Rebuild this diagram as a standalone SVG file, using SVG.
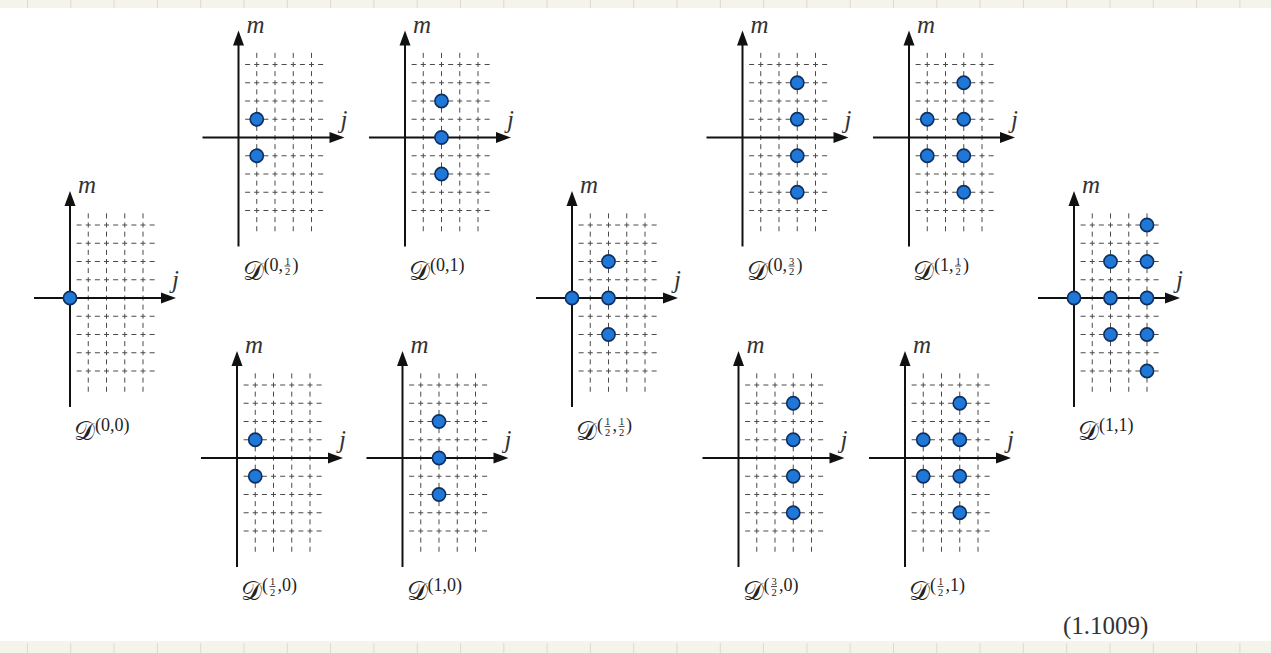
<svg xmlns="http://www.w3.org/2000/svg" xmlns:xlink="http://www.w3.org/1999/xlink" width="1271" height="653" viewBox="0 0 1271 653">
<style>
.grid{stroke:#4a4a4a;stroke-width:1;stroke-dasharray:5 4.125;fill:none}
.axis{stroke:#111;stroke-width:2;fill:none}
.head{fill:#111}
.dot{fill:#1f78d8;stroke:#0f2f5e;stroke-width:1.6}
.ax{font-family:"Liberation Serif","DejaVu Serif",serif;font-style:italic;font-weight:normal;font-size:25px;fill:#333}
.cal{font-family:"DejaVu Serif","DejaVu Sans",serif;font-size:26px;fill:#222}
.sup{font-family:"Liberation Serif",serif;font-size:18px;fill:#222}
.fr{font-family:"Liberation Serif",serif;font-size:10.5px;fill:#222;text-anchor:middle}
.bar{stroke:#222;stroke-width:0.8}
.eq{font-family:"Liberation Serif",serif;font-size:25px;fill:#333}
.strip{fill:#f5f4ea}
.tick{stroke:#dcdacb;stroke-width:1}
</style>
<defs>
<g id="frame">
<line class="grid" x1="18.25" y1="-84.625" x2="18.25" y2="93.75"/>
<line class="grid" x1="36.5" y1="-84.625" x2="36.5" y2="93.75"/>
<line class="grid" x1="54.75" y1="-84.625" x2="54.75" y2="93.75"/>
<line class="grid" x1="73" y1="-84.625" x2="73" y2="93.75"/>
<line class="grid" x1="6.625" y1="-73" x2="87" y2="-73"/>
<line class="grid" x1="6.625" y1="-54.75" x2="87" y2="-54.75"/>
<line class="grid" x1="6.625" y1="-36.5" x2="87" y2="-36.5"/>
<line class="grid" x1="6.625" y1="-18.25" x2="87" y2="-18.25"/>
<line class="grid" x1="6.625" y1="18.25" x2="87" y2="18.25"/>
<line class="grid" x1="6.625" y1="36.5" x2="87" y2="36.5"/>
<line class="grid" x1="6.625" y1="54.75" x2="87" y2="54.75"/>
<line class="grid" x1="6.625" y1="73" x2="87" y2="73"/>
<line class="axis" x1="-36" y1="0" x2="93" y2="0"/>
<polygon class="head" points="106,0 91,-5.5 91,5.5"/>
<line class="axis" x1="0" y1="109" x2="0" y2="-94"/>
<polygon class="head" points="0,-107 -5.5,-92 5.5,-92"/>
</g>
</defs>
<rect width="1271" height="653" fill="#ffffff"/>
<g id="border">
<rect class="strip" x="0" y="0" width="1271" height="8"/>
<rect class="strip" x="0" y="641" width="1271" height="12"/>
<path class="tick" d="M27.5 0V8M70.8 0V8M114.1 0V8M157.4 0V8M200.7 0V8M244 0V8M287.3 0V8M330.6 0V8M373.9 0V8M417.2 0V8M460.5 0V8M503.8 0V8M547.1 0V8M590.4 0V8M633.7 0V8M677 0V8M720.3 0V8M763.6 0V8M806.9 0V8M850.2 0V8M893.5 0V8M936.8 0V8M980.1 0V8M1023.4 0V8M1066.7 0V8M1110 0V8M1153.3 0V8M1196.6 0V8M1239.9 0V8"/>
<path class="tick" d="M27.5 643V653M70.8 643V653M114.1 643V653M157.4 643V653M200.7 643V653M244 643V653M287.3 643V653M330.6 643V653M373.9 643V653M417.2 643V653M460.5 643V653M503.8 643V653M547.1 643V653M590.4 643V653M633.7 643V653M677 643V653M720.3 643V653M763.6 643V653M806.9 643V653M850.2 643V653M893.5 643V653M936.8 643V653M980.1 643V653M1023.4 643V653M1066.7 643V653M1110 643V653M1153.3 643V653M1196.6 643V653M1239.9 643V653"/>
</g>
<g id="connectors"></g>

<g id="D00">
<use xlink:href="#frame" transform="translate(70,298)"/>
<text class="ax" x="78" y="193">m</text>
<text class="ax" x="172" y="288">j</text>
<circle class="dot" cx="70" cy="298" r="6.6"/>
<text class="cal" x="74" y="440">𝒟</text>
<text class="sup" x="95" y="431">(0,0)</text>
</g>

<g id="D0h">
<use xlink:href="#frame" transform="translate(238.5,137.5)"/>
<text class="ax" x="246.5" y="32.5">m</text>
<text class="ax" x="340.5" y="127.5">j</text>
<circle class="dot" cx="256.75" cy="119.25" r="6.6"/>
<circle class="dot" cx="256.75" cy="155.75" r="6.6"/>
<text class="cal" x="242.5" y="279.5">𝒟</text>
<text class="sup" x="263.5" y="270.5">(0,</text>
<text class="fr" x="287.5" y="264.5">1</text>
<line class="bar" x1="284.5" y1="266" x2="290.5" y2="266"/>
<text class="fr" x="287.5" y="275">2</text>
<text class="sup" x="292.5" y="270.5">)</text>
</g>

<g id="D01">
<use xlink:href="#frame" transform="translate(405,137.5)"/>
<text class="ax" x="413" y="32.5">m</text>
<text class="ax" x="507" y="127.5">j</text>
<circle class="dot" cx="441.5" cy="101" r="6.6"/>
<circle class="dot" cx="441.5" cy="137.5" r="6.6"/>
<circle class="dot" cx="441.5" cy="174" r="6.6"/>
<text class="cal" x="409" y="279.5">𝒟</text>
<text class="sup" x="430" y="270.5">(0,1)</text>
</g>

<g id="Dh0">
<use xlink:href="#frame" transform="translate(237,458)"/>
<text class="ax" x="245" y="353">m</text>
<text class="ax" x="339" y="448">j</text>
<circle class="dot" cx="255.25" cy="439.75" r="6.6"/>
<circle class="dot" cx="255.25" cy="476.25" r="6.6"/>
<text class="cal" x="241" y="600">𝒟</text>
<text class="sup" x="262" y="591">(</text>
<text class="fr" x="272.5" y="585">1</text>
<line class="bar" x1="269.5" y1="586.5" x2="275.5" y2="586.5"/>
<text class="fr" x="272.5" y="595.5">2</text>
<text class="sup" x="277.5" y="591">,0)</text>
</g>

<g id="D10">
<use xlink:href="#frame" transform="translate(402.5,458)"/>
<text class="ax" x="410.5" y="353">m</text>
<text class="ax" x="504.5" y="448">j</text>
<circle class="dot" cx="439" cy="421.5" r="6.6"/>
<circle class="dot" cx="439" cy="458" r="6.6"/>
<circle class="dot" cx="439" cy="494.5" r="6.6"/>
<text class="cal" x="406.5" y="600">𝒟</text>
<text class="sup" x="427.5" y="591">(1,0)</text>
</g>

<g id="Dhh">
<use xlink:href="#frame" transform="translate(572,298)"/>
<text class="ax" x="580" y="193">m</text>
<text class="ax" x="674" y="288">j</text>
<circle class="dot" cx="572" cy="298" r="6.6"/>
<circle class="dot" cx="608.5" cy="261.5" r="6.6"/>
<circle class="dot" cx="608.5" cy="298" r="6.6"/>
<circle class="dot" cx="608.5" cy="334.5" r="6.6"/>
<text class="cal" x="576" y="440">𝒟</text>
<text class="sup" x="597" y="431">(</text>
<text class="fr" x="607.5" y="425">1</text>
<line class="bar" x1="604.5" y1="426.5" x2="610.5" y2="426.5"/>
<text class="fr" x="607.5" y="435.5">2</text>
<text class="sup" x="612.5" y="431">,</text>
<text class="fr" x="621.5" y="425">1</text>
<line class="bar" x1="618.5" y1="426.5" x2="624.5" y2="426.5"/>
<text class="fr" x="621.5" y="435.5">2</text>
<text class="sup" x="626" y="431">)</text>
</g>

<g id="D03h">
<use xlink:href="#frame" transform="translate(742.5,137.5)"/>
<text class="ax" x="750.5" y="32.5">m</text>
<text class="ax" x="844.5" y="127.5">j</text>
<circle class="dot" cx="797.25" cy="82.75" r="6.6"/>
<circle class="dot" cx="797.25" cy="119.25" r="6.6"/>
<circle class="dot" cx="797.25" cy="155.75" r="6.6"/>
<circle class="dot" cx="797.25" cy="192.25" r="6.6"/>
<text class="cal" x="746.5" y="279.5">𝒟</text>
<text class="sup" x="767.5" y="270.5">(0,</text>
<text class="fr" x="791.5" y="264.5">3</text>
<line class="bar" x1="788.5" y1="266" x2="794.5" y2="266"/>
<text class="fr" x="791.5" y="275">2</text>
<text class="sup" x="796.5" y="270.5">)</text>
</g>

<g id="D1h">
<use xlink:href="#frame" transform="translate(909,137.5)"/>
<text class="ax" x="917" y="32.5">m</text>
<text class="ax" x="1011" y="127.5">j</text>
<circle class="dot" cx="927.25" cy="119.25" r="6.6"/>
<circle class="dot" cx="927.25" cy="155.75" r="6.6"/>
<circle class="dot" cx="963.75" cy="82.75" r="6.6"/>
<circle class="dot" cx="963.75" cy="119.25" r="6.6"/>
<circle class="dot" cx="963.75" cy="155.75" r="6.6"/>
<circle class="dot" cx="963.75" cy="192.25" r="6.6"/>
<text class="cal" x="913" y="279.5">𝒟</text>
<text class="sup" x="934" y="270.5">(1,</text>
<text class="fr" x="958" y="264.5">1</text>
<line class="bar" x1="955" y1="266" x2="961" y2="266"/>
<text class="fr" x="958" y="275">2</text>
<text class="sup" x="963" y="270.5">)</text>
</g>

<g id="D3h0">
<use xlink:href="#frame" transform="translate(738.5,458)"/>
<text class="ax" x="746.5" y="353">m</text>
<text class="ax" x="840.5" y="448">j</text>
<circle class="dot" cx="793.25" cy="403.25" r="6.6"/>
<circle class="dot" cx="793.25" cy="439.75" r="6.6"/>
<circle class="dot" cx="793.25" cy="476.25" r="6.6"/>
<circle class="dot" cx="793.25" cy="512.75" r="6.6"/>
<text class="cal" x="742.5" y="600">𝒟</text>
<text class="sup" x="763.5" y="591">(</text>
<text class="fr" x="774" y="585">3</text>
<line class="bar" x1="771" y1="586.5" x2="777" y2="586.5"/>
<text class="fr" x="774" y="595.5">2</text>
<text class="sup" x="779" y="591">,0)</text>
</g>

<g id="Dh1">
<use xlink:href="#frame" transform="translate(905,458)"/>
<text class="ax" x="913" y="353">m</text>
<text class="ax" x="1007" y="448">j</text>
<circle class="dot" cx="923.25" cy="439.75" r="6.6"/>
<circle class="dot" cx="923.25" cy="476.25" r="6.6"/>
<circle class="dot" cx="959.75" cy="403.25" r="6.6"/>
<circle class="dot" cx="959.75" cy="439.75" r="6.6"/>
<circle class="dot" cx="959.75" cy="476.25" r="6.6"/>
<circle class="dot" cx="959.75" cy="512.75" r="6.6"/>
<text class="cal" x="909" y="600">𝒟</text>
<text class="sup" x="930" y="591">(</text>
<text class="fr" x="940.5" y="585">1</text>
<line class="bar" x1="937.5" y1="586.5" x2="943.5" y2="586.5"/>
<text class="fr" x="940.5" y="595.5">2</text>
<text class="sup" x="945.5" y="591">,1)</text>
</g>

<g id="D11">
<use xlink:href="#frame" transform="translate(1074,298)"/>
<text class="ax" x="1082" y="193">m</text>
<text class="ax" x="1176" y="288">j</text>
<circle class="dot" cx="1074" cy="298" r="6.6"/>
<circle class="dot" cx="1110.5" cy="261.5" r="6.6"/>
<circle class="dot" cx="1110.5" cy="298" r="6.6"/>
<circle class="dot" cx="1110.5" cy="334.5" r="6.6"/>
<circle class="dot" cx="1147" cy="225" r="6.6"/>
<circle class="dot" cx="1147" cy="261.5" r="6.6"/>
<circle class="dot" cx="1147" cy="298" r="6.6"/>
<circle class="dot" cx="1147" cy="334.5" r="6.6"/>
<circle class="dot" cx="1147" cy="371" r="6.6"/>
<text class="cal" x="1078" y="440">𝒟</text>
<text class="sup" x="1099" y="431">(1,1)</text>
</g>

<g id="eqnum">
<text class="eq" x="1063" y="634">(1.1009)</text>
</g>
</svg>
